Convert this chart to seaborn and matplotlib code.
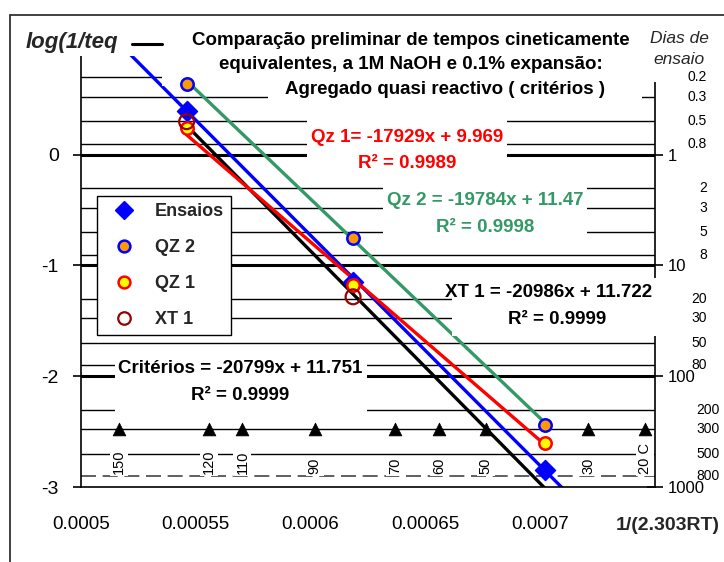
import numpy as np
import pandas as pd
import matplotlib
matplotlib.use("Agg")
import matplotlib.pyplot as plt
import seaborn as sns
from matplotlib.transforms import Affine2D, blended_transform_factory
from matplotlib.lines import Line2D
from matplotlib.patches import Rectangle

# ---------------- data ----------------
x_temp = [0.000546, 0.0006185, 0.0007022]          # 1/(2.303RT) of the three test temperatures
ensaios = [0.397, -1.147, -2.846]
qz2 = [0.641, -0.750, -2.439]
qz1 = [0.244, -1.174, -2.602]
xt1_x = [0.000546, 0.0006185]
xt1 = [0.298, -1.283]

# trendlines (Excel equations)
fit_names = ["XT 1", "Critérios", "Qz 1", "Qz 2"]
fit_slope = [-20986, -20799, -17929, -19784]
fit_intercept = [11.722, 11.751, 9.969, 11.47]
fit_r2 = ["0.9999", "0.9999", "0.9989", "0.9998"]
fit_xstart = [0.000546, 0.000521, 0.000546, 0.000546]
fit_xend = [0.0007022, 0.000720, 0.0007022, 0.0007022]
fit_colors = ["black", "#0000FF", "#FF0000", "#339966"]

# temperature markers (°C) along the 300-day line
temp_labels = ["150", "120", "110", "90", "70", "60", "50", "30", "20 C"]
temp_x = [0.0005164, 0.0005558, 0.0005703, 0.0006018, 0.0006368,
          0.0006560, 0.0006762, 0.0007210, 0.0007455]
temp_day = 300

# right axis: test days
days_major = [1, 10, 100, 1000]
days_minor = [0.2, 0.3, 0.5, 0.8, 2, 3, 5, 8, 20, 30, 50, 80, 200, 300, 500, 800]

x_ticks = [0.0005, 0.00055, 0.0006, 0.00065, 0.0007]
x_ticklabels = ["0.0005", "0.00055", "0.0006", "0.00065", "0.0007"]
y_ticks = [0, -1, -2, -3]
y_ticklabels = ["0", "-1", "-2", "-3"]

# ---------------- figure ----------------
sns.set_theme(style="white")
plt.rcParams['font.family'] = ['Liberation Sans', 'DejaVu Sans']

W, H = 724, 562
fig = plt.figure(figsize=(W / 100, H / 100), dpi=100)
fig.patch.set_facecolor("white")
pix = Affine2D().scale(1 / W, -1 / H).translate(0, 1) + fig.transFigure

L, R, T, B = 81, 655, 55, 487
ax = fig.add_axes([L / W, 1 - B / H, (R - L) / W, (B - T) / H])
ax.set_xlim(0.0005, 0.00075)
ax.set_ylim(-3, 0.9)
ax2 = ax.twinx()
ax2.set_yscale("log")
ax2.set_ylim(10 ** (-ax.get_ylim()[0]), 10 ** (-ax.get_ylim()[1]))
ax.set_zorder(ax2.get_zorder() + 1)
ax.patch.set_visible(False)
ax2.patch.set_visible(False)

# ---- background horizontal lines (days) on ax2 ----
for d in days_minor:
    if d == 800:
        ax2.axhline(d, color="#444444", lw=1.2, ls=(0, (9, 4)), zorder=1)
    else:
        ax2.axhline(d, color="black", lw=1.0, zorder=1)
for d in days_major[:-1]:
    ax2.axhline(d, color="black", lw=2.2, zorder=1)

# right axis ticks / labels
for s in ["left", "top", "bottom"]:
    ax2.spines[s].set_visible(False)
ax2.spines["right"].set_color("black")
ax2.spines["right"].set_linewidth(1.2)
ax2.set_yticks(days_major, [str(d) for d in days_major])
ax2.yaxis.set_minor_locator(matplotlib.ticker.NullLocator())
ax2.tick_params(axis="y", which="major", direction="inout", length=12, width=1.2,
                labelsize=12, pad=3, colors="black")
ax2.tick_params(axis="x", bottom=False, labelbottom=False)
tr_right = blended_transform_factory(ax2.transAxes, ax2.transData)
for d in days_minor:
    xr = (720 - L) / (R - L) if d >= 200 else (707 - L) / (R - L)
    ax.text(xr, d, f"{d:g}", transform=tr_right, ha="right", va="center",
            fontsize=10, color="black", clip_on=False, zorder=6)

# temperature triangles + rotated labels
sns.scatterplot(x=temp_x, y=[temp_day] * len(temp_x), ax=ax2, marker="^", s=85,
                color="black", edgecolor="black", linewidth=0.5, zorder=4, legend=False)
tr_temp = blended_transform_factory(ax2.transData, pix)
for xv, lab in zip(temp_x, temp_labels):
    ax2.text(xv, 474, lab, transform=tr_temp, rotation=90, rotation_mode="anchor",
             ha="left", va="center", fontsize=10.5, color="black", zorder=3,
             bbox=dict(facecolor="white", edgecolor="none", pad=1.5))

# ---- fit lines on ax ----
for name, m, b, xs, xe, c in zip(fit_names, fit_slope, fit_intercept,
                                 fit_xstart, fit_xend, fit_colors):
    xx = np.array([xs, xe])
    df = pd.DataFrame({"x": xx, "y": m * xx + b})
    sns.lineplot(data=df, x="x", y="y", ax=ax, color=c, lw=2.4, zorder=2)

# ---- white label boxes (cover gridlines) ----
boxes = [(15, 20, 165, 56),      # log(1/teq
         (162, 20, 642, 86),     # title lines 1-2
         (268, 86, 642, 108),    # title line 3
         (642, 20, 722, 82),     # Dias de ensaio
         (307, 108, 507, 166),   # Qz 1
         (383, 176, 587, 245),   # Qz 2
         (452, 278, 668, 336),   # XT 1
         (115, 350, 367, 414)]   # Critérios
for x0, y0, x1, y1 in boxes:
    ax.add_patch(Rectangle((x0, y1), x1 - x0, y0 - y1, transform=pix, facecolor="white",
                           edgecolor="none", zorder=3, clip_on=False))

# ---- data markers ----
sns.scatterplot(x=x_temp, y=ensaios, ax=ax, marker="D", s=105, color="#0000FF",
                edgecolor="#0000FF", linewidth=1, zorder=4, legend=False)
sns.scatterplot(x=x_temp, y=qz2, ax=ax, marker="o", s=80, color="#FF9900",
                edgecolor="#0000FF", linewidth=1.8, zorder=4, legend=False)
sns.scatterplot(x=x_temp, y=qz1, ax=ax, marker="o", s=80, color="#FFFF00",
                edgecolor="#FF0000", linewidth=1.8, zorder=4, legend=False)
sns.scatterplot(x=xt1_x, y=xt1, ax=ax, marker="o", s=115, facecolor="none",
                edgecolor="#990000", linewidth=1.6, zorder=4, legend=False)

# ---- axes styling ----
ax.spines["top"].set_visible(False)
ax.spines["right"].set_visible(False)
for s in ["left", "bottom"]:
    ax.spines[s].set_color("black")
    ax.spines[s].set_linewidth(1.2)
ax.set_xticks(x_ticks, x_ticklabels)
ax.set_yticks(y_ticks, y_ticklabels)
ax.tick_params(axis="x", direction="out", length=7, width=1.2, labelsize=13.5, pad=14,
               colors="black")
ax.tick_params(axis="y", direction="out", length=6, width=1.2, labelsize=14, pad=10,
               colors="black")
ax.set_xlabel("")
ax.set_ylabel("")
ax.grid(False)
ax2.grid(False)

# ---- texts ----
def t(x, y, s, **kw):
    kw.setdefault("zorder", 6)
    ax.text(x, y, s, transform=pix, clip_on=False, **kw)

t(26, 48, "log(1/teq", fontsize=16, fontweight="bold", fontstyle="italic", ha="left",
  va="baseline")
ax.add_line(Line2D([132, 162], [44, 44], transform=pix, color="black", lw=2.2,
                   clip_on=False, zorder=6))
tk = dict(fontsize=13.5, fontweight="bold", ha="center", va="baseline", color="black")
t(411, 45, "Comparação preliminar de tempos cineticamente", **tk)
t(411, 69, "equivalentes, a 1M NaOH e 0.1% expansão:", **tk)
t(445, 94, "Agregado quasi reactivo ( critérios )", **tk)
t(679, 43, "Dias de", fontsize=12.5, fontstyle="italic", ha="center", va="baseline")
t(679, 64, "ensaio", fontsize=12.5, fontstyle="italic", ha="center", va="baseline")

eq_pos = {"Qz 1": (407, 142, 168, "Qz 1= {m}x + {b}"),
          "Qz 2": (485, 205, 232, "Qz 2 = {m}x + {b}"),
          "XT 1": (549, 297, 324, "XT 1 = {m}x + {b}"),
          "Critérios": (240, 373, 400, "Critérios = {m}x + {b}")}
for name, m, b, r2, c in zip(fit_names, fit_slope, fit_intercept, fit_r2, fit_colors):
    xc, y1, y2, fmt = eq_pos[name]
    col = c if name in ("Qz 1", "Qz 2") else "black"
    t(xc, y1, fmt.format(m=m, b=f"{b:g}"), fontsize=13.5, fontweight="bold",
      ha="center", va="baseline", color=col)
    t(xc + (8 if name == "XT 1" else 0), y2, f"R² = {r2}", fontsize=13.5,
      fontweight="bold", ha="center", va="baseline", color=col)

t(720, 530, "1/(2.303RT)", fontsize=14, fontweight="bold", ha="right", va="baseline")

# ---- legend ----
handles = [
    Line2D([], [], ls="none", marker="D", ms=9, mfc="#0000FF", mec="#0000FF"),
    Line2D([], [], ls="none", marker="o", ms=8.5, mfc="#FF9900", mec="#0000FF", mew=1.8),
    Line2D([], [], ls="none", marker="o", ms=8.5, mfc="#FFFF00", mec="#FF0000", mew=1.8),
    Line2D([], [], ls="none", marker="o", ms=9, mfc="none", mec="#990000", mew=1.6),
]
leg = ax.legend(handles, ["Ensaios", "QZ 2", "QZ 1", "XT 1"], loc="upper left",
                bbox_to_anchor=(97, 196), bbox_transform=pix, borderaxespad=0,
                prop={"size": 13, "weight": "bold"}, frameon=True, fancybox=False,
                framealpha=1, edgecolor="black", borderpad=0.4, labelspacing=1.05,
                handlelength=2.2, handletextpad=0.6)
leg.get_frame().set_linewidth(1.0)
leg.set_zorder(7)

# ---- outer chart border ----
fig.add_artist(Line2D([10, 10], [15, 562], transform=pix, color="#333333", lw=1.3))
fig.add_artist(Line2D([10, 724], [15, 15], transform=pix, color="#333333", lw=1.3))

fig.savefig("out.png", dpi=100, facecolor="white")
